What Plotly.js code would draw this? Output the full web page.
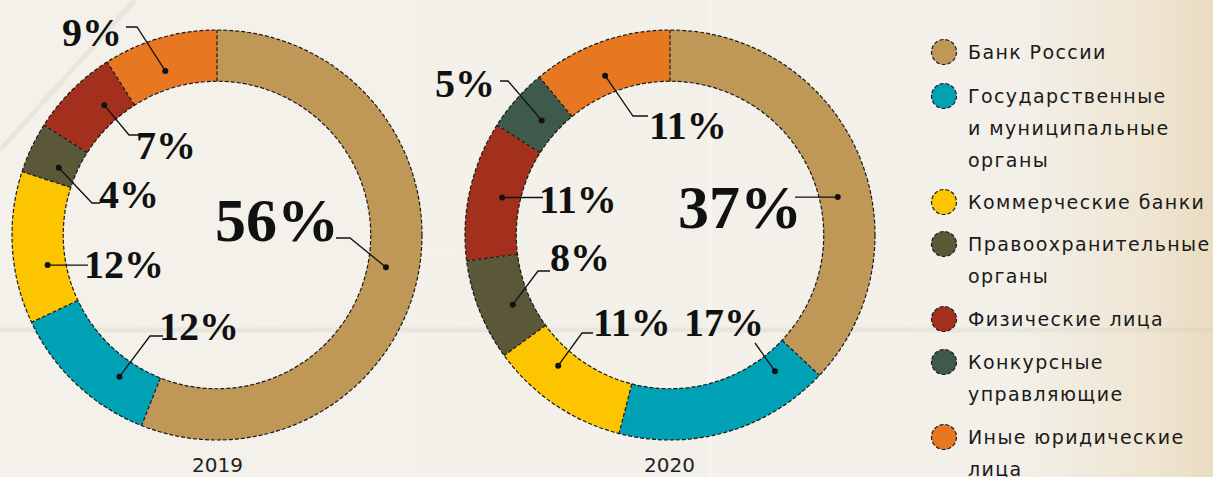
<!DOCTYPE html>
<html><head><meta charset="utf-8">
<script src="https://cdn.plot.ly/plotly-3.0.1.min.js"></script>
<style>
html,body{margin:0;padding:0;width:1213px;height:477px;overflow:hidden;
background:linear-gradient(90deg,#f3f1ea 0%,#f2f0e8 84%,#efe6d4 94%,#eadcc0 100%);}
#chart{width:1213px;height:477px;}
</style>
</head><body><div id="chart"></div>
<script>
// ---- data ----
const categories = ['Банк России','Государственные и муниципальные органы','Коммерческие банки','Правоохранительные органы','Физические лица','Конкурсные управляющие','Иные юридические лица'];
const legendLines = [['Банк России'],['Государственные','и муниципальные','органы'],['Коммерческие банки'],['Правоохранительные','органы'],['Физические лица'],['Конкурсные','управляющие'],['Иные юридические','лица']];
const years = ['2019','2020'];
const values2019 = [56,12,12,4,7,0,9];
const values2020 = [37,17,11,8,11,5,11];
const colors = ['#bf9858','#00a0b5','#fdc400','#5b5739','#a3301c','#3e5a4b','#e87722'];

// ---- layout helpers (pixel geometry) ----
const W=1213,H=477;
const X=x=>x/W, Y=y=>1-y/H;
const R=205, HOLE=0.75, RDOT=172;
const charts=[
 {values:values2019, year:years[0], cx:217, cy:235,
  labels:[
   {i:0,f:0.5, t:[277,220], s:62, p:[[350,238],[336,238]]},
   {i:1,f:0.30,t:[199,326], s:40, p:[[150,336],[163,336]]},
   {i:2,f:0.35,t:[124,264], s:40, p:[[88,null]]},
   {i:3,f:0.35,t:[129,194], s:40, p:[[92,203],[100,203]]},
   {i:4,f:0.66,t:[166,145], s:40, p:[[129,135],[140,135]]},
   {i:6,f:0.46,t:[92,33],  s:40, p:[[137,27],[126,27]]}
  ]},
 {values:values2020, year:years[1], cx:670, cy:235,
  labels:[
   {i:0,f:0.58,t:[740,207], s:62, p:[[795,null]]},
   {i:1,f:0.15,t:[724,322], s:40, p:[[755,343]]},
   {i:2,f:0.66,t:[632,322], s:40, p:[[582,333],[593,333]]},
   {i:3,f:0.42,t:[580,257], s:40, p:[[538,271],[550,271]]},
   {i:4,f:0.5, t:[578,199], s:40, p:[[543,null]]},
   {i:5,f:0.52,t:[465,84],  s:40, p:[[508,81],[500,81]]},
   {i:6,f:0.44,t:[688,125], s:40, p:[[633,116],[648,116]]}
  ]}
];
function polar(cx,cy,r,deg){const a=deg*Math.PI/180;return [cx+r*Math.sin(a), cy-r*Math.cos(a)];}

const data=[], shapes=[], annotations=[];
// faint background paper folds
shapes.push({type:'line',xref:'paper',yref:'paper',x0:0,x1:1,y0:Y(330),y1:Y(330),line:{color:'rgba(205,199,186,0.25)',width:5},layer:'below'});
shapes.push({type:'line',xref:'paper',yref:'paper',x0:X(710),x1:X(710),y0:0,y1:1,line:{color:'rgba(255,255,255,0.3)',width:5},layer:'below'});
shapes.push({type:'line',xref:'paper',yref:'paper',x0:X(0),x1:X(135),y0:Y(150),y1:Y(0),line:{color:'rgba(215,210,200,0.35)',width:5},layer:'below'});

const dash={color:'#1a1a1a',width:1.2,dash:'4px,2px'};
charts.forEach(c=>{
  data.push({type:'pie',values:c.values,labels:categories,sort:false,direction:'clockwise',rotation:0,
    hole:HOLE,marker:{colors:colors,line:{width:0}},textinfo:'none',hoverinfo:'label+percent',showlegend:false,
    domain:{x:[X(c.cx-R),X(c.cx+R)],y:[Y(c.cy+R),Y(c.cy-R)]}});
  // dashed ring outlines
  [R,R*HOLE].forEach(r=>shapes.push({type:'circle',xref:'paper',yref:'paper',x0:X(c.cx-r),x1:X(c.cx+r),y0:Y(c.cy+r),y1:Y(c.cy-r),line:dash}));
  const total=c.values.reduce((a,b)=>a+b,0);
  let cum=0; const starts=[];
  c.values.forEach(v=>{starts.push(cum);cum+=v;});
  c.values.forEach((v,i)=>{
    if(v<=0) return;
    const deg=starts[i]/total*360;
    const a=polar(c.cx,c.cy,R*HOLE,deg), b=polar(c.cx,c.cy,R,deg);
    shapes.push({type:'line',xref:'paper',yref:'paper',x0:X(a[0]),y0:Y(a[1]),x1:X(b[0]),y1:Y(b[1]),line:dash});
  });
  c.labels.forEach(L=>{
    const deg=(starts[L.i]+L.f*c.values[L.i])/total*360;
    const d=polar(c.cx,c.cy,RDOT,deg);
    let path='M'+X(d[0])+','+Y(d[1]);
    L.p.forEach(pt=>{const py=pt[1]===null?d[1]:pt[1]; path+=' L'+X(pt[0])+','+Y(py);});
    shapes.push({type:'path',xref:'paper',yref:'paper',path:path,line:{color:'#111',width:1.3}});
    shapes.push({type:'circle',xref:'paper',yref:'paper',x0:X(d[0]-3),x1:X(d[0]+3),y0:Y(d[1]+3),y1:Y(d[1]-3),fillcolor:'#111',line:{width:0}});
    annotations.push({xref:'paper',yref:'paper',x:X(L.t[0]),y:Y(L.t[1]),xanchor:'center',yanchor:'middle',showarrow:false,
      text:c.values[L.i]+'%',font:{family:'Liberation Serif, serif',size:L.s,color:'#111',weight:700}});
  });
  annotations.push({xref:'paper',yref:'paper',x:X(c.cx),y:Y(465),xanchor:'center',yanchor:'middle',showarrow:false,
    text:c.year,font:{family:'DejaVu Sans, sans-serif',size:20,color:'#222'}});
});
// custom legend
const legendY=[52,96,202,244,319,362,437];
categories.forEach((cat,i)=>{
  const y=legendY[i];
  shapes.push({type:'circle',xref:'paper',yref:'paper',x0:X(944-12.5),x1:X(944+12.5),y0:Y(y+12.5),y1:Y(y-12.5),fillcolor:colors[i],line:dash});
  legendLines[i].forEach((ln,k)=>{
    annotations.push({xref:'paper',yref:'paper',x:X(966),y:Y(y+k*32),xanchor:'left',yanchor:'middle',showarrow:false,
      text:'<span style="letter-spacing:1.4px">'+ln+'</span>',font:{family:'DejaVu Sans, sans-serif',size:19,color:'#1a1a1a'}});
  });
});

Plotly.newPlot('chart',data,{width:W,height:H,margin:{l:0,r:0,t:0,b:0},paper_bgcolor:'rgba(0,0,0,0)',plot_bgcolor:'rgba(0,0,0,0)',
  shapes:shapes,annotations:annotations,showlegend:false},{displayModeBar:false,staticPlot:true});
</script></body></html>
